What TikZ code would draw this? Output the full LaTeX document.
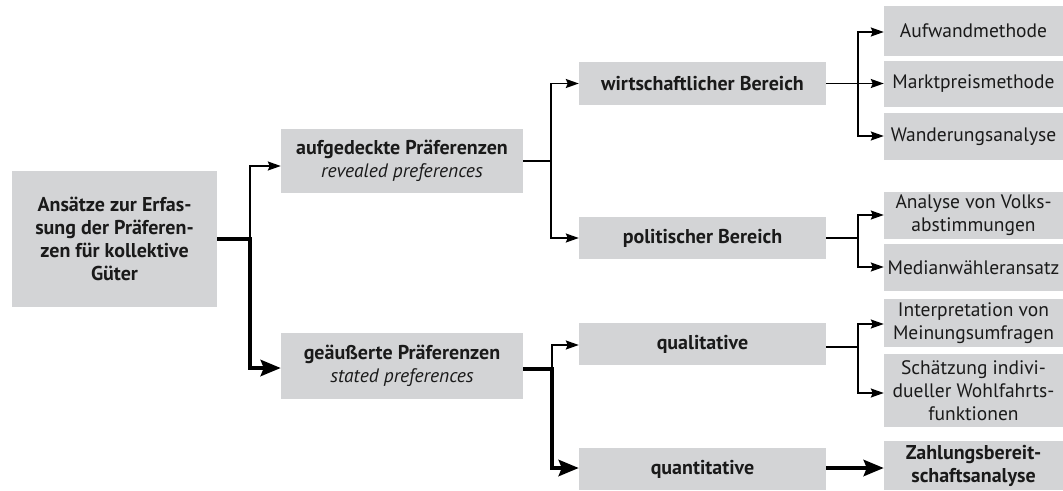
\documentclass[tikz,border=0pt]{standalone}
\usepackage{fontspec}
\setmainfont{PT Sans}
\usetikzlibrary{arrows.meta}
\definecolor{boxgray}{RGB}{211,212,214}
\definecolor{txt}{RGB}{26,26,26}
\newcommand\itx[1]{{\fontsize{19.5}{23}\selectfont\itshape #1}}
\newcommand\bfx[1]{{\fontsize{20}{23}\selectfont\bfseries #1}}
\begin{document}
\begin{tikzpicture}[x=1pt,y=-1pt,
  box/.style={fill=boxgray, text=txt, inner sep=0pt, align=center,
    font=\fontsize{19.5}{23}\selectfont},
  bbox/.style={box, font=\fontsize{20}{23}\selectfont\bfseries},
  thinln/.style={line width=1.8pt},
  thickln/.style={line width=4.5pt},
  tarr/.style={thinln, -{Stealth[length=13pt,width=9pt,inset=2pt]}},
  Tarr/.style={thickln, -{Stealth[length=20pt,width=16pt,inset=3pt]}},
]
\useasboundingbox (0,0) rectangle (1063,490);

% level 0
\node[bbox, minimum width=205, minimum height=136] (A) at (114.5,239)
  {Ansätze zur Erfas-\\sung der Präferen-\\zen für kollektive\\Güter};
% level 1
\node[box, minimum width=242, minimum height=64] (B) at (402,161)
  {\bfx{aufgedeckte Präferenzen}\\\itx{revealed preferences}};
\node[box, minimum width=242, minimum height=66] (C) at (402,366)
  {\bfx{geäußerte Präferenzen}\\\itx{stated preferences}};
% level 2
\node[bbox, minimum width=247, minimum height=43] (D) at (702.5,83.5) {wirtschaftlicher Bereich};
\node[bbox, minimum width=247, minimum height=42] (E) at (702.5,238) {politischer Bereich};
\node[bbox, minimum width=247, minimum height=42] (F) at (702.5,344) {qualitative};
\node[bbox, minimum width=247, minimum height=42] (G) at (702.5,469) {quantitative};
% level 3
\node[box, minimum width=179, minimum height=50] (H1) at (973.5,31) {Aufwandmethode};
\node[box, minimum width=179, minimum height=46] (H2) at (973.5,84) {Marktpreismethode};
\node[box, minimum width=179, minimum height=47] (H3) at (973.5,136.5) {Wanderungsanalyse};
\node[box, minimum width=179, minimum height=47] (H4) at (973.5,215.5) {Analyse von Volks-\\abstimmungen};
\node[box, minimum width=179, minimum height=47] (H5) at (973.5,267.5) {Medianwähleransatz};
\node[box, minimum width=179, minimum height=48] (H6) at (973.5,323) {Interpretation von\\Meinungsumfragen};
\node[box, minimum width=179, minimum height=73] (H7) at (973.5,390.5) {Schätzung indivi-\\dueller Wohlfahrts-\\funktionen};
\node[bbox, minimum width=179, minimum height=49] (H8) at (973.5,465.5) {Zahlungsbereit-\\schaftsanalyse};

% connectors A
\draw[Tarr] (A.east) -- ++(33,0) coordinate (j1) |- ([yshift=-2pt]C.west);
\draw[tarr] (j1) |- ([yshift=-5pt]B.west);
% connectors B
\draw[thinln] (B.east) -- ++(28,0) coordinate (j2);
\draw[tarr] (j2) |- (D.west);
\draw[tarr] (j2) |- (E.west);
% connectors C
\draw[Tarr] ([yshift=-3pt]C.east) -- ++(29,0) coordinate (j3) |- ([yshift=1pt]G.west);
\draw[tarr] (j3) |- ([yshift=-1pt]F.west);
% connectors D
\draw[thinln] (D.east) -- ++(32,0) coordinate (j4);
\draw[tarr] (j4) |- ([yshift=-1pt]H1.west);
\draw[tarr] (j4) -- (j4 -| H2.west);
\draw[tarr] (j4) |- ([yshift=0.5pt]H3.west);
% connectors E
\draw[thinln] (E.east) -- ++(32,0) coordinate (j5);
\draw[tarr] (j5) |- ([yshift=0.5pt]H4.west);
\draw[tarr] (j5) |- ([yshift=0.5pt]H5.west);
% connectors F
\draw[thinln] ([yshift=-3pt]F.east) -- ++(32,0) coordinate (j6);
\draw[tarr] (j6) |- ([yshift=-1pt]H6.west);
\draw[tarr] (j6) |- ([yshift=-2.5pt]H7.west);
% connector G
\draw[Tarr] ([yshift=1pt]G.east) -- ([yshift=1pt]G.east -| H8.west);
\end{tikzpicture}
\end{document}
